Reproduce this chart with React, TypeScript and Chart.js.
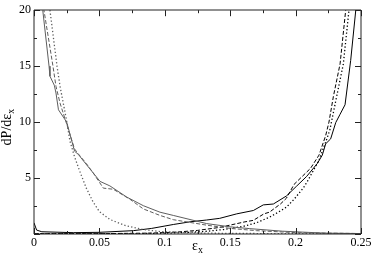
import React, { useEffect, useRef } from "react";
import { Chart, registerables } from "chart.js";

Chart.register(...registerables);

// ---- data ----
const decSolidX = [0.001, 0.004, 0.0067, 0.0115, 0.0122, 0.0155, 0.0168, 0.0187, 0.025, 0.031, 0.034, 0.038, 0.0453, 0.0505, 0.058, 0.0709, 0.0836, 0.0963, 0.1065, 0.132, 0.15, 0.165, 0.19, 0.222, 0.25];
const decSolidY = [40, 26, 20, 15.0, 14.1, 13.3, 12.6, 11.1, 10.0, 7.4, 7.1, 6.5, 5.45, 4.7, 4.3, 3.3, 2.53, 1.95, 1.66, 0.93, 0.64, 0.48, 0.25, 0.08, 0.04];

const decDashX = [0.002, 0.005, 0.0076, 0.0145, 0.0168, 0.0199, 0.0245, 0.031, 0.0336, 0.04, 0.0453, 0.053, 0.0606, 0.0734, 0.0836, 0.0963, 0.1065, 0.132, 0.15, 0.17, 0.2, 0.25];
const decDashY = [40, 26, 20, 15, 13.2, 11.7, 10, 7.6, 7.2, 6.3, 5.45, 4.1, 4.0, 3.1, 2.24, 1.66, 1.28, 0.79, 0.5, 0.3, 0.12, 0.04];

const decDotX = [0.003, 0.007, 0.0122, 0.0176, 0.0199, 0.0245, 0.0275, 0.031, 0.035, 0.04, 0.045, 0.05, 0.058, 0.07, 0.0836, 0.0963, 0.12, 0.15, 0.2, 0.25];
const decDotY = [40, 28, 20, 15, 13.2, 10.4, 8.3, 6.9, 5.6, 4.1, 2.9, 2.0, 1.3, 0.75, 0.4, 0.22, 0.1, 0.05, 0.03, 0.02];

const incSolidX = [0, 0.002, 0.006, 0.03, 0.05, 0.076, 0.09, 0.1065, 0.12, 0.132, 0.142, 0.155, 0.1677, 0.1753, 0.183, 0.193, 0.2008, 0.2085, 0.2166, 0.2204, 0.223, 0.2268, 0.2307, 0.234, 0.2378, 0.2421, 0.246, 0.249];
const incSolidY = [1.0, 0.35, 0.2, 0.12, 0.15, 0.3, 0.5, 0.85, 1.1, 1.25, 1.4, 1.8, 2.1, 2.6, 2.68, 3.4, 4.28, 5.15, 6.3, 7.05, 8.06, 8.5, 9.96, 10.7, 11.55, 15.5, 20, 26];

const incDashX = [0, 0.05, 0.09, 0.11, 0.125, 0.142, 0.1606, 0.1677, 0.1758, 0.18, 0.1886, 0.193, 0.1988, 0.2115, 0.2179, 0.223, 0.2255, 0.2289, 0.234, 0.2383, 0.242];
const incDashY = [0.03, 0.03, 0.08, 0.18, 0.32, 0.59, 1.07, 1.22, 1.8, 1.95, 2.7, 3.2, 4.43, 5.88, 7.05, 8.8, 10, 12.3, 15.2, 20, 26];

const incDotX = [0, 0.08, 0.11, 0.13, 0.145, 0.155, 0.1606, 0.17, 0.18, 0.186, 0.193, 0.1988, 0.206, 0.209, 0.2179, 0.2242, 0.2263, 0.2314, 0.2365, 0.2408, 0.245];
const incDotY = [0.02, 0.03, 0.1, 0.22, 0.4, 0.59, 0.7, 1.0, 1.5, 1.9, 2.4, 3.1, 4.13, 4.7, 6.6, 8.6, 9.37, 12.3, 15.2, 20, 26];

const xTickValues = [0, 0.05, 0.1, 0.15, 0.2, 0.25];
const xTickLabels = ["0", "0.05", "0.1", "0.15", "0.2", "0.25"];
const yTickValues = [0, 5, 10, 15, 20];
const yTickLabels = ["", "5", "10", "15", "20"];
const xMinorStep = 0.025;
const yMinorStep = 2.5;

const xTitleMain = "ε";
const xTitleSub = "x";
const yTitleMain = "dP/dε";
const yTitleSub = "x";

const GRAY = "#5e5e5e";
const BLACK = "#000000";
const SERIF = "'Liberation Serif', 'Times New Roman', serif";

const pts = (xs: number[], ys: number[]) => xs.map((x, i) => ({ x, y: ys[i] }));

const frameAndTicks = {
  id: "frameAndTicks",
  afterDraw(chart: any) {
    const { ctx, chartArea } = chart;
    const xs = chart.scales.x;
    const ys = chart.scales.y;
    const { left, right, top, bottom } = chartArea;
    ctx.save();
    ctx.strokeStyle = "#222";
    ctx.lineWidth = 1;
    ctx.setLineDash([]);
    ctx.beginPath();
    ctx.rect(Math.round(left), Math.round(top), Math.round(right) - Math.round(left), Math.round(bottom) - Math.round(top));
    ctx.stroke();
    ctx.beginPath();
    const nx = Math.round((xs.max - xs.min) / xMinorStep);
    for (let i = 0; i <= nx; i++) {
      const v = xs.min + i * xMinorStep;
      const px = Math.round(xs.getPixelForValue(v)) + 0.5;
      const len = i % 2 === 0 ? 6 : 3;
      ctx.moveTo(px, bottom);
      ctx.lineTo(px, bottom - len);
      ctx.moveTo(px, top);
      ctx.lineTo(px, top + len);
    }
    const ny = Math.round((ys.max - ys.min) / yMinorStep);
    for (let i = 0; i <= ny; i++) {
      const v = ys.min + i * yMinorStep;
      const py = Math.round(ys.getPixelForValue(v)) + 0.5;
      const len = i % 2 === 0 ? 6 : 3;
      ctx.moveTo(left, py);
      ctx.lineTo(left + len, py);
      ctx.moveTo(right, py);
      ctx.lineTo(right - len, py);
    }
    ctx.stroke();

    // axis titles with subscripts
    ctx.fillStyle = "#000";
    ctx.textBaseline = "alphabetic";
    ctx.font = `14px ${SERIF}`;
    const wMain = ctx.measureText(xTitleMain).width;
    ctx.font = `10px ${SERIF}`;
    const wSub = ctx.measureText(xTitleSub).width;
    const cx = (left + right) / 2;
    const x0 = cx - (wMain + wSub) / 2;
    ctx.font = `14px ${SERIF}`;
    ctx.textAlign = "left";
    ctx.fillText(xTitleMain, x0, 250);
    ctx.font = `10px ${SERIF}`;
    ctx.fillText(xTitleSub, x0 + wMain, 253);

    ctx.save();
    const cy = (top + bottom) / 2 + 5;
    ctx.translate(11, cy);
    ctx.rotate(-Math.PI / 2);
    ctx.font = `14px ${SERIF}`;
    const wyMain = ctx.measureText(yTitleMain).width;
    ctx.font = `10px ${SERIF}`;
    const wySub = ctx.measureText(yTitleSub).width;
    const y0 = -(wyMain + wySub) / 2;
    ctx.font = `14px ${SERIF}`;
    ctx.fillText(yTitleMain, y0, 0);
    ctx.font = `10px ${SERIF}`;
    ctx.fillText(yTitleSub, y0 + wyMain, 3);
    ctx.restore();
    ctx.restore();
  },
};

export default function App() {
  const ref = useRef<HTMLCanvasElement | null>(null);
  useEffect(() => {
    document.body.style.margin = "0";
    if (!ref.current) return;
    const mk = (xs: number[], ys: number[], color: string, dash: number[], w = 1) => ({
      data: pts(xs, ys),
      borderColor: color,
      borderWidth: w,
      borderDash: dash,
      pointRadius: 0,
      showLine: true,
      fill: false,
      tension: 0,
    });
    const chart = new Chart(ref.current, {
      type: "scatter",
      data: {
        datasets: [
          mk(decSolidX, decSolidY, GRAY, []),
          mk(decDashX, decDashY, GRAY, [4, 2]),
          mk(decDotX, decDotY, GRAY, [1.3, 2.2], 1.3),
          mk(incSolidX, incSolidY, BLACK, []),
          mk(incDashX, incDashY, BLACK, [4, 2]),
          mk(incDotX, incDotY, BLACK, [1.3, 2.2], 1.3),
        ],
      },
      options: {
        animation: false,
        responsive: false,
        devicePixelRatio: 1,
        layout: { padding: { top: 5, right: 13, left: 0, bottom: 0 } },
        plugins: { legend: { display: false }, tooltip: { enabled: false } },
        scales: {
          x: {
            type: "linear",
            min: 0,
            max: 0.25,
            grid: { display: false, drawTicks: false },
            border: { display: false },
            afterBuildTicks: (s: any) => {
              s.ticks = xTickValues.map((v) => ({ value: v }));
            },
            afterFit: (s: any) => {
              s.height = 29;
            },
            ticks: {
              padding: 2,
              color: "#000",
              maxRotation: 0,
              autoSkip: false,
              font: { family: SERIF, size: 12 },
              callback: (_v: any, i: number) => xTickLabels[i],
            },
          },
          y: {
            type: "linear",
            min: 0,
            max: 20,
            grid: { display: false, drawTicks: false },
            border: { display: false },
            afterBuildTicks: (s: any) => {
              s.ticks = yTickValues.map((v) => ({ value: v }));
            },
            afterFit: (s: any) => {
              s.width = 34;
            },
            ticks: {
              padding: 3,
              color: "#000",
              autoSkip: false,
              font: { family: SERIF, size: 12 },
              callback: (_v: any, i: number) => yTickLabels[i],
            },
          },
        },
      },
      plugins: [frameAndTicks],
    } as any);
    return () => chart.destroy();
  }, []);
  return (
    <div style={{ width: 374, height: 263 }}>
      <canvas ref={ref} width={374} height={263} style={{ width: 374, height: 263, display: "block" }} />
    </div>
  );
}
